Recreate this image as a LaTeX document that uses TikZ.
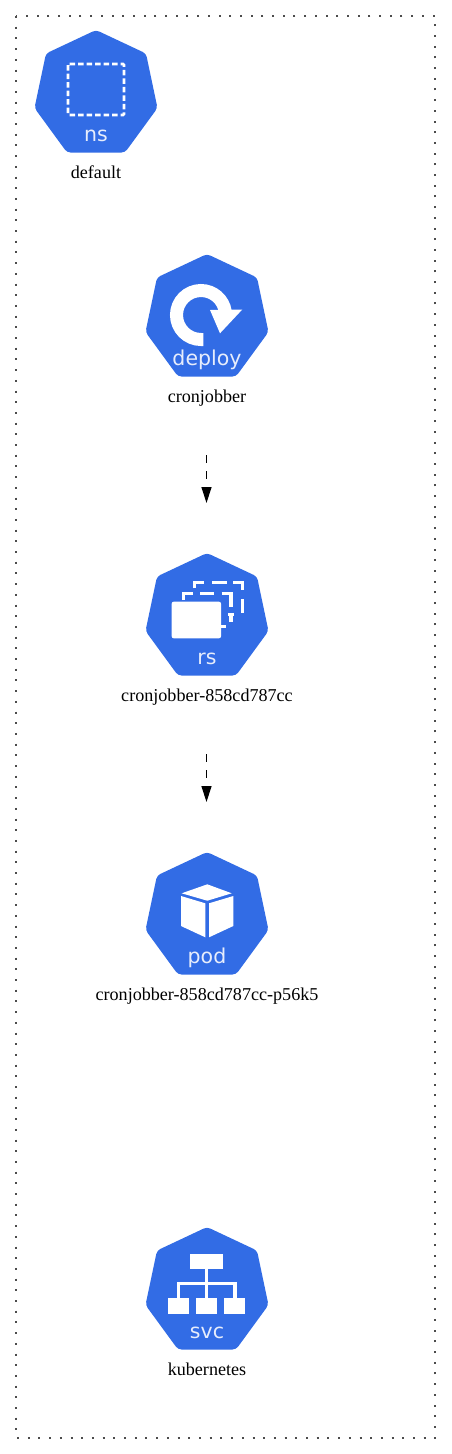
\documentclass[tikz,border=0pt]{standalone}
\usepackage{fontspec}
\setmainfont{Liberation Serif}
\newfontfamily\iconfont{DejaVu Sans}
\usetikzlibrary{arrows.meta}
\definecolor{kubeblue}{HTML}{326CE5}
\tikzset{
  iconbox/.style = {minimum width = 121pt, minimum height = 121pt, inner sep = 0pt, outer sep = 0pt},
  heptagon/.style = {fill = kubeblue, rounded corners = 3.5pt},
  kindtext/.style = {anchor = base, text = white!88!kubeblue, font = \iconfont\fontsize{20.5}{23}\selectfont, inner sep = 0pt},
  nametext/.style = {anchor = base, font = \fontsize{18.1}{21}\selectfont, inner sep = 0pt},
  glyph/.style = {fill = white, draw = none},
  glyphline/.style = {draw = white, line width = 3.2pt},
  cluster/.style = {draw = black!70, line width = 2pt, dash pattern = on 2pt off 8.7pt},
  edgearrow/.style = {-{Triangle[length = 16pt, width = 10pt]}, line width = 1.2pt, dash pattern = on 7.5pt off 8.5pt, shorten < = 79pt, shorten > = 51pt}
}
\begin{document}
\begin{tikzpicture}[x = 1pt, y = -1pt]
  \useasboundingbox (0, 0) rectangle (451, 1454);
  \draw [cluster] (16, 16) rectangle (435, 1438);
  \foreach \kind/\px/\py/\title in {ns/96/31/default, deploy/207/255/cronjobber, rs/207/554/cronjobber-858cd787cc, pod/207/853/cronjobber-858cd787cc-p56k5, svc/207/1228/kubernetes} {
    \begin{scope}[shift = {(\px, \py)}]
      \node (\kind) at (0, 60.5) [iconbox] {};
      \fill [heptagon] (0, -1) -- (50, 22.5) -- (61.5, 77) -- (29, 121.5) -- (-29, 121.5) -- (-61.5, 77) -- (-50, 22.5) -- cycle;
      \node (\kind-kind) at (0, 110) [kindtext] {\kind};
      \node (\kind-name) at (0, 147) [nametext] {\title};
    \end{scope}
  }
  % ns
  \begin{scope}[shift = {(96, 31)}]
    \draw [glyphline, line width = 2.8pt, rounded corners = 1pt, dash pattern = on 5.5pt off 3pt] (-28, 33) rectangle (28, 84);
  \end{scope}
  % deploy
  \begin{scope}[shift = {(207, 255)}]
    \draw [draw = white, line width = 13pt] (-3.7, 84.5) -- (-6, 84.5) arc (270 : 8 : 24.5pt);
    \fill [glyph] (3, 55) -- (35.3, 54.5) -- (13, 78.3) -- cycle;
  \end{scope}
  % rs
  \begin{scope}[shift = {(207, 554)}]
    \fill [glyph, rounded corners = 2pt] (-35.3, 47.7) rectangle (14, 84.3);
    \draw [glyphline] (-12.7, 34.3) -- (-12.7, 28.3) -- (-2.7, 28.3);
    \draw [glyphline] (5.3, 28.3) -- (19.7, 28.3);
    \draw [glyphline] (26.3, 28.3) -- (35.3, 28.3) -- (35.3, 36);
    \draw [glyphline] (35.3, 45.3) -- (35.3, 59.3);
    \draw [glyphline] (21.3, 60.3) -- (27.3, 60.3);
    \draw [glyphline] (-23.7, 46) -- (-23.7, 39.3) -- (-13.7, 39.3);
    \draw [glyphline] (-7, 39.3) -- (7.3, 39.3);
    \draw [glyphline] (14.7, 39.3) -- (24, 39.3) -- (24, 53);
    \draw [glyphline] (24, 59.3) -- (24, 67.7);
    \draw [glyphline] (14, 72.7) -- (18.7, 72.7);
  \end{scope}
  % pod
  \begin{scope}[shift = {(207, 853)}]
    \fill [glyph] (0.3, 31.3) -- (24.7, 40.3) -- (0.3, 47.7) -- (-25.3, 40.3) -- cycle;
    \fill [glyph] (-26, 43) -- (-1.7, 50.3) -- (-1.7, 84.3) -- (-26, 73) -- cycle;
    \fill [glyph] (2, 50.3) -- (26.3, 43) -- (26.3, 73) -- (2, 84.3) -- cycle;
  \end{scope}
  % svc
  \begin{scope}[shift = {(207, 1228)}]
    \fill [glyph] (-17, 26.3) rectangle (15.7, 41);
    \foreach \bx in {-39, -11, 17}
      \fill [glyph] (\bx, 70.3) rectangle (\bx + 21.3, 85.7);
    \draw [glyphline] (-0.3, 41) -- (-0.3, 70.3);
    \draw [glyphline] (-28.7, 70.3) -- (-28.7, 55.3) -- (28, 55.3) -- (28, 70.3);
  \end{scope}
  \draw [edgearrow] ([xshift = -0.5pt] deploy.south) -- ([xshift = -0.5pt] rs.north);
  \draw [edgearrow] ([xshift = -0.5pt] rs.south) -- ([xshift = -0.5pt] pod.north);
\end{tikzpicture}
\end{document}
